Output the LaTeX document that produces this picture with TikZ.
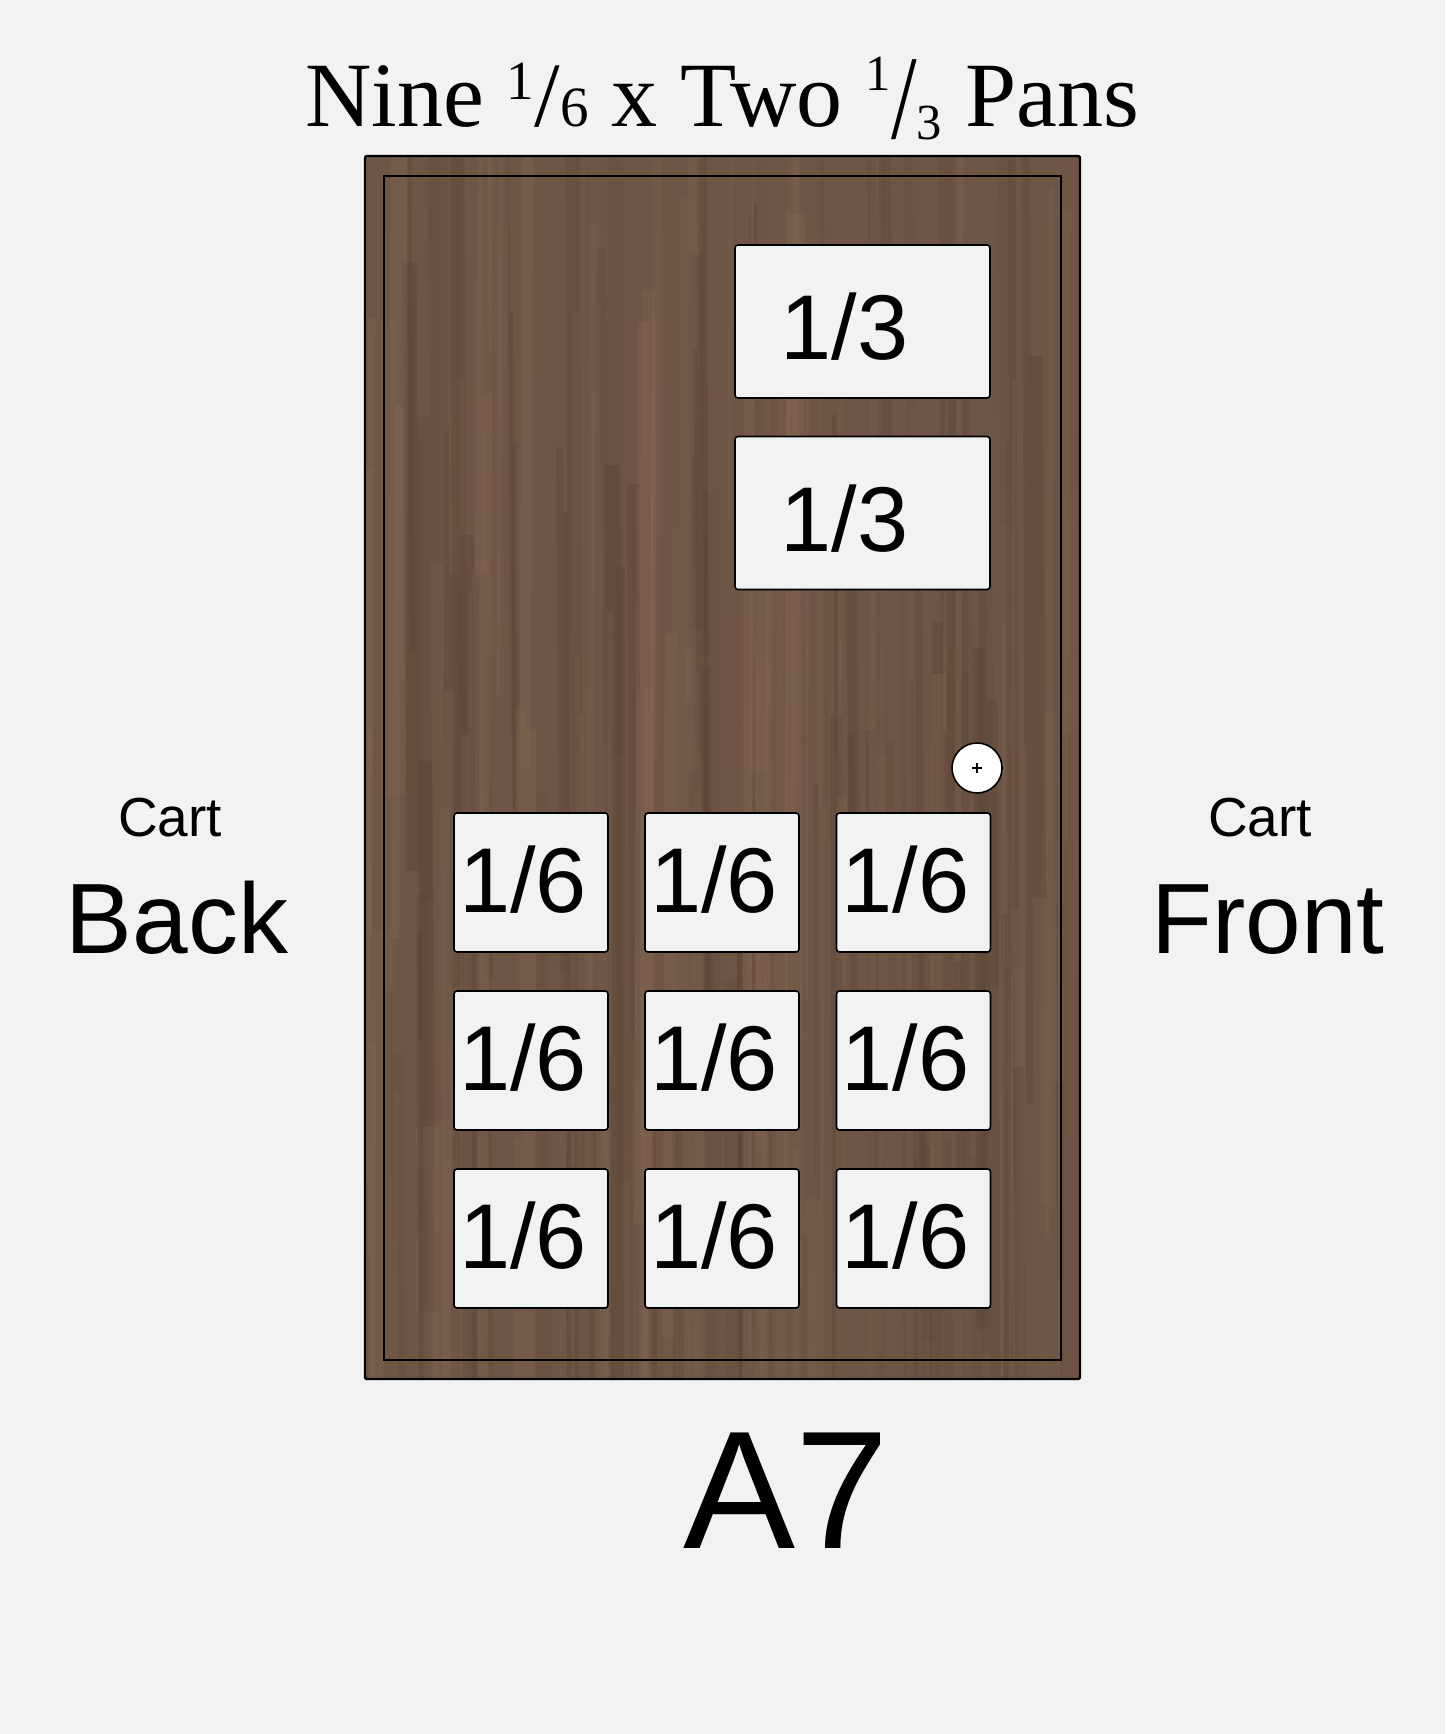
\documentclass[tikz,border=0pt]{standalone}
\usepackage{fontspec}
\usepackage{graphicx}
\setmainfont{Liberation Sans}
\newfontfamily\titlefont{Liberation Serif}
\definecolor{pagegray}{HTML}{F2F2F2}
\definecolor{walnut}{RGB}{110,85,69}
\definecolor{walnutdark}{RGB}{80,60,48}
\definecolor{walnutlight}{RGB}{142,112,90}
% vulgar fractions built by hand
\newcommand{\sixthfrac}{\raisebox{0.30em}{\scalebox{0.6}{1}}/\scalebox{0.62}{6}}
\newcommand{\thirdfrac}{\raisebox{0.40em}{\scalebox{0.55}{1}}\raisebox{-0.12em}{\scalebox{1}[1.3]{/}}\raisebox{-0.14em}{\scalebox{0.55}{3}}}

\begin{document}
\begin{tikzpicture}[x=1pt, y=-1pt,
  pan/.style = {draw=black, line width=1.6pt, fill=pagegray,
    rounded corners=3pt, inner sep=0pt, text depth=0pt,
    font=\fontsize{92}{92}\selectfont},
  sixth/.style = {pan, minimum width=154pt, minimum height=139pt, text height=60pt},
  third/.style = {pan, minimum width=255pt, minimum height=153pt, text height=76pt},
  side/.style = {anchor=base, inner sep=0pt}]
  \useasboundingbox[fill=pagegray] (0,0) rectangle (1445,1734);

  % door with wood grain
  \begin{scope}
    \clip (365,156) rectangle (1080,1379);
    \fill[walnut] (365,156) rectangle (1080,1379);
    \pgfmathsetseed{7}
    \foreach \i in {1,...,110}{
      \pgfmathsetmacro\gx{365+715*rnd}
      \pgfmathsetmacro\gw{2+14*rnd}
      \pgfmathsetmacro\go{0.08+0.2*rnd}
      \pgfmathsetmacro\ga{-100+1300*rnd}
      \pgfmathsetmacro\gb{\ga+300+900*rnd}
      \draw[walnutdark, line width=\gw pt, opacity=\go] (\gx,\ga) -- (\gx+4,\gb);
    }
    \foreach \i in {1,...,100}{
      \pgfmathsetmacro\gx{365+715*rnd}
      \pgfmathsetmacro\gw{2+16*rnd}
      \pgfmathsetmacro\go{0.06+0.2*rnd}
      \pgfmathsetmacro\ga{-100+1300*rnd}
      \pgfmathsetmacro\gb{\ga+300+900*rnd}
      \draw[walnutlight, line width=\gw pt, opacity=\go] (\gx,\ga) -- (\gx-3,\gb);
    }
  \end{scope}
  \draw[line width=2.4pt, rounded corners=2pt] (365,156) rectangle (1080,1379);
  \draw[line width=1.6pt] (384,176) rectangle (1061,1360);

  % title
  \node (title) [side, font=\titlefont\fontsize{92}{92}\selectfont]
    at (722,127) {Nine \sixthfrac\ x Two \thirdfrac\ Pans};

  % 1/3 pans
  \node (third1) [third] at (862.5,321.5) {1/3\kern36pt};
  \node (third2) [third] at (862.5,513) {1/3\kern36pt};

  % knob
  \node (knob) [circle, draw, line width=1.6pt, fill=white,
    minimum size=50pt, inner sep=0pt] at (977,768) {};
  \draw[line width=2.2pt] (knob.center) +(-5,0) -- +(5,0);
  \draw[line width=2.2pt] (knob.center) +(0,-5) -- +(0,5);

  % 1/6 pans
  \foreach \c/\x in {1/531,2/722,3/913.5}
    \foreach \r/\y in {1/882.5,2/1060.5,3/1238.5}
      \node (sixth\r\c) [sixth] at (\x,\y) {1/6\kern16pt};

  % sides
  \node (cartback) [side, font=\fontsize{55}{55}\selectfont] at (170,836) {Cart};
  \node (back) [side, font=\fontsize{100}{100}\selectfont] at (177,953) {Back};
  \node (cartfront) [side, font=\fontsize{55}{55}\selectfont] at (1260,836) {Cart};
  \node (front) [side, font=\fontsize{100}{100}\selectfont] at (1268,953) {Front};
  \node (cartname) [side, font=\fontsize{168}{168}\selectfont] at (786,1548) {A7};
\end{tikzpicture}
\end{document}
